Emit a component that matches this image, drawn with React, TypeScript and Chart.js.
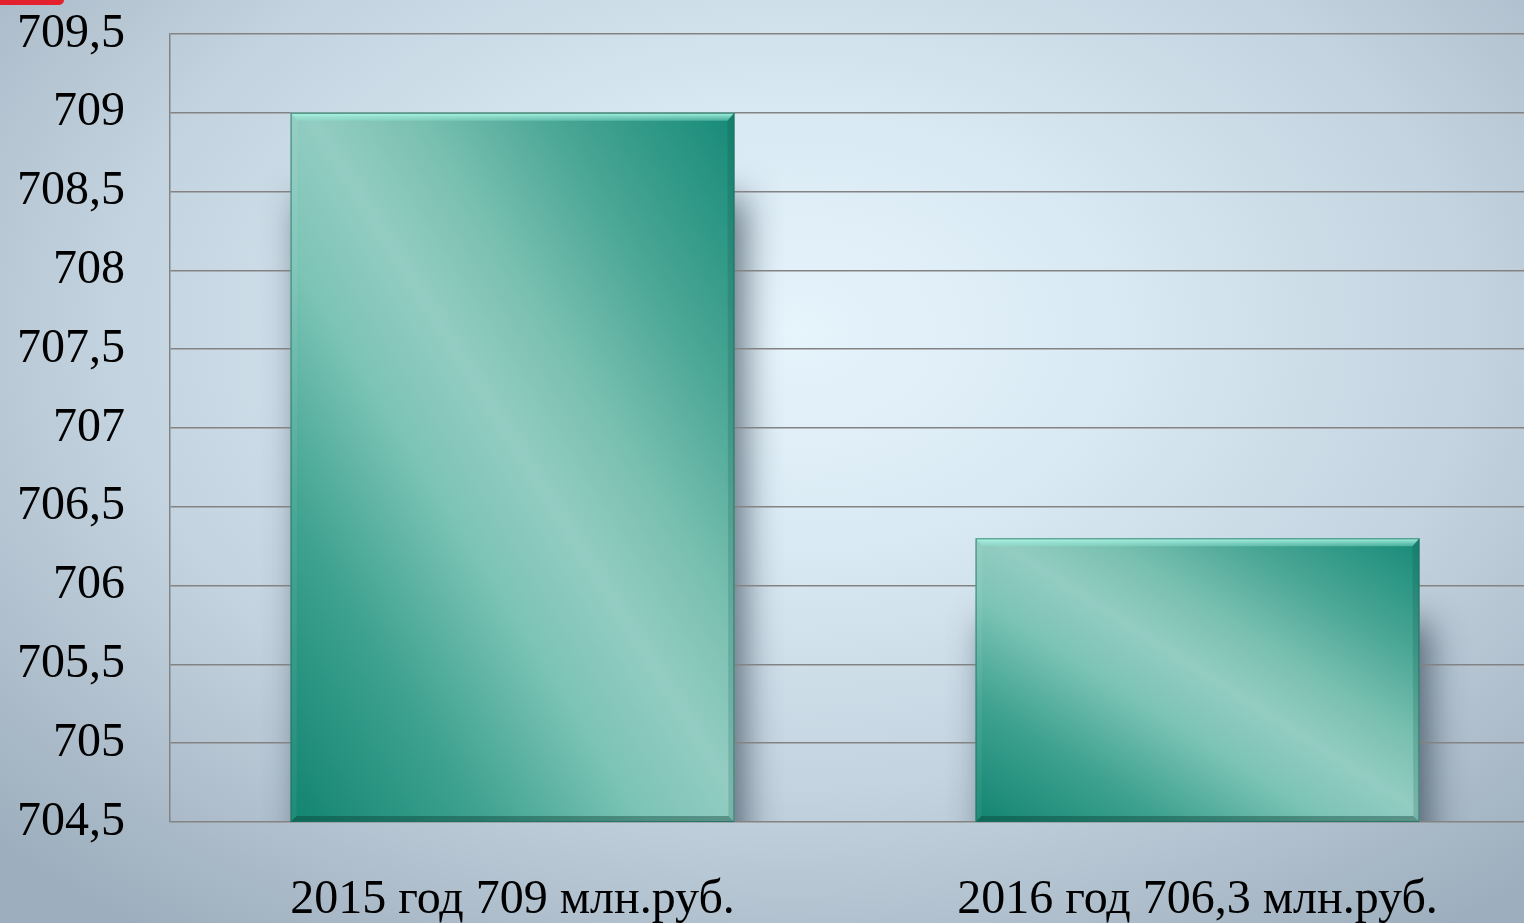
import React, { useEffect, useRef } from "react";
import { Chart, registerables } from "chart.js";

Chart.register(...registerables);

const categories: string[] = ["2015 год 709 млн.руб.", "2016 год 706,3 млн.руб."];
const values: number[] = [709, 706.3];
const yMin = 704.5;
const yMax = 709.5;
const yStep = 0.5;

const BAR_PCT = 0.648;

function barGeom(chart: any, i: number) {
  const xs = chart.scales.x;
  const ys = chart.scales.y;
  const cw = xs.width / categories.length;
  const w = cw * BAR_PCT;
  const cx = xs.getPixelForValue(i);
  const top = ys.getPixelForValue(values[i]);
  const base = ys.getPixelForValue(yMin);
  return { l: cx - w / 2, r: cx + w / 2, t: top, b: base, w, h: base - top, cx };
}

const shadowPlugin = {
  id: "barShadow",
  beforeDraw(chart: any) {
    const ctx = chart.ctx;
    const ca = chart.chartArea;
    ctx.save();
    ctx.beginPath();
    ctx.rect(ca.left, ca.top, ca.right - ca.left, ca.bottom - ca.top);
    ctx.clip();
    for (let i = 0; i < values.length; i++) {
      const g = barGeom(chart, i);
      const off = 20000;
      ctx.shadowColor = "rgba(40,55,70,0.7)";
      ctx.shadowBlur = 34;
      ctx.shadowOffsetX = off + 10;
      ctx.shadowOffsetY = 85;
      ctx.fillStyle = "#000";
      ctx.fillRect(g.l - off, g.t, g.w, g.h + 90);
    }
    ctx.restore();
  },
  afterDatasetsDraw(chart: any) {
    const ctx = chart.ctx;
    ctx.save();
    for (let i = 0; i < values.length; i++) {
      const { l, r, t, b } = barGeom(chart, i);
      const tg = ctx.createLinearGradient(0, t, 0, t + 8);
      tg.addColorStop(0, "rgba(180,250,235,0.95)");
      tg.addColorStop(1, "rgba(140,225,205,0.4)");
      ctx.fillStyle = tg;
      ctx.beginPath();
      ctx.moveTo(l, t);
      ctx.lineTo(r, t);
      ctx.lineTo(r - 7, t + 8);
      ctx.lineTo(l + 7, t + 8);
      ctx.closePath();
      ctx.fill();
      ctx.fillStyle = "rgba(10,60,50,0.4)";
      ctx.beginPath();
      ctx.moveTo(l, b);
      ctx.lineTo(r, b);
      ctx.lineTo(r - 6, b - 6);
      ctx.lineTo(l + 6, b - 6);
      ctx.closePath();
      ctx.fill();
      ctx.fillStyle = "rgba(10,70,60,0.18)";
      ctx.beginPath();
      ctx.moveTo(r, t);
      ctx.lineTo(r, b);
      ctx.lineTo(r - 6, b - 6);
      ctx.lineTo(r - 7, t + 8);
      ctx.closePath();
      ctx.fill();
      ctx.fillStyle = "rgba(255,255,255,0.06)";
      ctx.beginPath();
      ctx.moveTo(l, t);
      ctx.lineTo(l, b);
      ctx.lineTo(l + 6, b - 6);
      ctx.lineTo(l + 7, t + 8);
      ctx.closePath();
      ctx.fill();
      ctx.strokeStyle = "rgba(30,110,95,0.8)";
      ctx.lineWidth = 1;
      ctx.strokeRect(l + 0.5, t + 0.5, r - l - 1, b - t - 1);
    }
    ctx.restore();
  },
};

function barFill(c: any) {
  const chart = c.chart;
  if (!chart.chartArea || c.type !== "data") return "#5ab3a2";
  const { t, w, h, cx } = barGeom(chart, c.dataIndex);
  const cy = t + h / 2;
  const d = Math.sqrt(w * w + h * h);
  const nx = h / d;
  const ny = -w / d;
  const L = (w * h) / d;
  const g = chart.ctx.createLinearGradient(cx - nx * L, cy - ny * L, cx + nx * L, cy + ny * L);
  g.addColorStop(0, "#118470");
  g.addColorStop(0.22, "#3fa290");
  g.addColorStop(0.4, "#7cc4b6");
  g.addColorStop(0.52, "#93ccc2");
  g.addColorStop(0.64, "#79c0b1");
  g.addColorStop(0.8, "#48a594");
  g.addColorStop(1, "#168a77");
  return g;
}

export default function App() {
  const ref = useRef<HTMLCanvasElement | null>(null);
  useEffect(() => {
    document.body.style.margin = "0";
    document.body.style.overflow = "hidden";
    const canvas = ref.current;
    if (!canvas) return;
    const chart = new Chart(canvas, {
      type: "bar",
      data: {
        labels: categories,
        datasets: [
          {
            data: values,
            backgroundColor: barFill as any,
            borderWidth: 0,
            categoryPercentage: 1,
            barPercentage: BAR_PCT,
          },
        ],
      },
      plugins: [shadowPlugin],
      options: {
        animation: false,
        responsive: false,
        maintainAspectRatio: false,
        devicePixelRatio: 1,
        layout: { padding: { top: 34, left: 0, right: 0, bottom: 0 } },
        plugins: { legend: { display: false }, tooltip: { enabled: false } },
        scales: {
          x: {
            grid: { display: false, drawTicks: false },
            border: { display: false },
            ticks: {
              color: "#000",
              padding: 50,
              font: { family: "'Liberation Serif', 'Times New Roman', serif", size: 48 },
              maxRotation: 0,
              autoSkip: false,
            },
            afterFit: (s: any) => {
              s.height = 101;
              s.paddingLeft = 0;
              s.paddingRight = 0;
            },
          },
          y: {
            min: yMin,
            max: yMax,
            ticks: {
              stepSize: yStep,
              color: "#000",
              padding: 45,
              font: { family: "'Liberation Serif', 'Times New Roman', serif", size: 48 },
              callback: (v: any) => String(Math.round(Number(v) * 10) / 10).replace(".", ","),
            },
            grid: { color: "#838383", lineWidth: 1.5, drawTicks: false },
            border: { display: true, color: "#838383", width: 1.5 },
            afterFit: (s: any) => {
              s.width = 170;
              s.paddingTop = 0;
              s.paddingBottom = 0;
            },
          },
        },
      },
    });
    return () => chart.destroy();
  }, []);
  return (
    <div
      style={{
        position: "relative",
        width: 1524,
        height: 923,
        overflow: "hidden",
        background:
          "radial-gradient(ellipse 72% 80% at 52% 36%, #e6f4fc 0%, #d9e9f3 30%, #c3d3df 62%, #a9b9c7 88%, #9dafbe 100%)",
      }}
    >
      <canvas ref={ref} width={1540} height={923} style={{ position: "absolute", left: 0, top: 0 }} />
      <div
        style={{
          position: "absolute",
          left: 0,
          top: 0,
          width: 64,
          height: 5,
          background: "#e3202b",
          borderBottomRightRadius: 6,
        }}
      />
    </div>
  );
}
